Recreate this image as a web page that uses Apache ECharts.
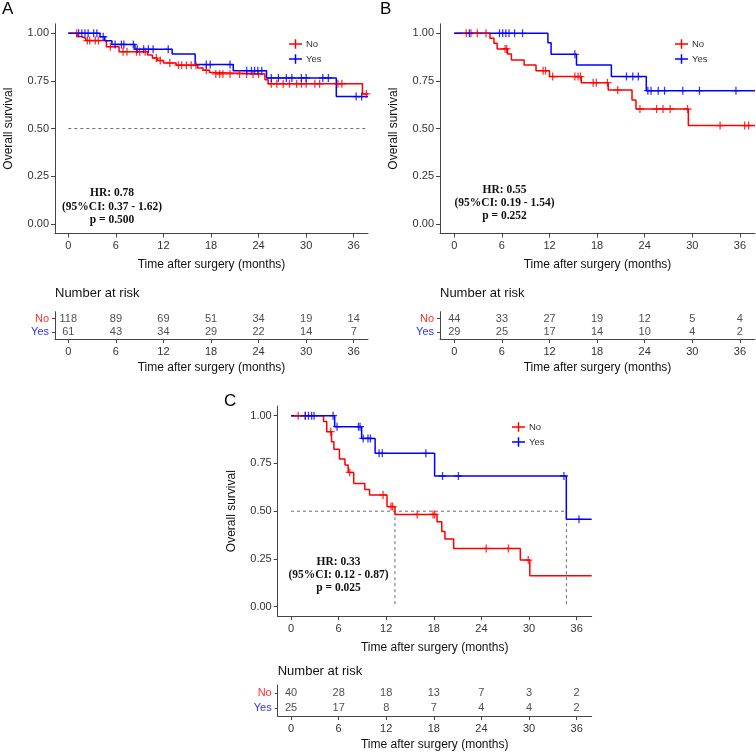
<!DOCTYPE html>
<html><head><meta charset="utf-8">
<script src="https://cdn.jsdelivr.net/npm/echarts@6/dist/echarts.min.js"></script>
<style>html,body{margin:0;padding:0;background:#fff}#c{width:756px;height:752px}</style>
</head><body><div id="c"></div>
<script>
const months = [0, 6, 12, 18, 24, 30, 36];
const yTicks = [0, 0.25, 0.5, 0.75, 1];
const groups = ['No', 'Yes'];

// Panel A
const A_no_time = [0, 1.1, 1.6, 2.2, 4.8, 6.4, 10.0, 10.6, 11.2, 12.0, 13.6, 16.3, 17.0, 17.8, 18.3, 24.8, 25.2, 37.1, 37.8];
const A_no_surv = [1, 0.983, 0.974, 0.962, 0.93, 0.904, 0.886, 0.87, 0.857, 0.845, 0.833, 0.818, 0.806, 0.795, 0.787, 0.757, 0.735, 0.682, 0.682];
const A_yes_time = [0, 4.0, 4.6, 5.5, 8.4, 13.1, 16.0, 20.8, 25.0, 33.8, 37.8];
const A_yes_surv = [1, 0.982, 0.961, 0.942, 0.916, 0.891, 0.836, 0.804, 0.766, 0.668, 0.668];
const A_no_cens = [1.05, 2.4, 2.7, 3.4, 3.8, 5.3, 6.9, 7.4, 8.6, 9.0, 9.7, 11.1, 11.6, 12.8, 13.9, 14.3, 14.9, 15.5, 16.1, 17.4, 18.6, 19.1, 19.5, 20.4, 21.6, 22.5, 23.3, 24.0, 25.6, 26.3, 27.1, 27.9, 28.8, 29.4, 30.0, 31.1, 31.7, 34.0, 34.5, 37.6];
const A_yes_cens = [1.3, 1.7, 2.1, 2.5, 3.2, 3.6, 4.4, 5.9, 6.7, 7.0, 8.2, 8.7, 9.5, 10.1, 10.7, 12.6, 17.4, 17.9, 20.4, 22.5, 23.1, 23.5, 23.9, 24.4, 25.6, 26.5, 27.5, 28.2, 29.4, 30.0, 32.1, 32.8, 36.3, 37.0];
const A_risk_no = [118, 89, 69, 51, 34, 19, 14];
const A_risk_yes = [61, 43, 34, 29, 22, 14, 7];
const A_ref = [0, 37.6];
const A_text = 'HR: 0.78\n(95%CI: 0.37 - 1.62)\np = 0.500';

// Panel B
const B_no_time = [0, 4.5, 5.0, 5.4, 6.7, 7.2, 8.8, 10.3, 12.0, 16.0, 19.4, 22.4, 22.9, 29.5, 37.9];
const B_no_surv = [1, 0.974, 0.948, 0.918, 0.892, 0.86, 0.834, 0.804, 0.773, 0.741, 0.703, 0.65, 0.603, 0.516, 0.516];
const B_yes_time = [0, 11.8, 12.2, 15.4, 19.8, 24.2, 37.9];
const B_yes_surv = [1, 0.951, 0.89, 0.834, 0.773, 0.699, 0.699];
const B_no_cens = [1.5, 2.1, 2.9, 4.0, 6.4, 6.6, 11.2, 11.5, 12.4, 15.2, 15.6, 15.9, 17.5, 17.9, 19.3, 20.6, 23.4, 25.5, 26.3, 27.2, 29.4, 33.5, 36.6, 37.1];
const B_yes_cens = [1.9, 5.7, 6.1, 6.5, 6.9, 7.6, 8.6, 15.2, 21.7, 22.5, 23.2, 24.4, 24.8, 25.7, 26.5, 28.8, 30.9, 35.5];
const B_risk_no = [44, 33, 27, 19, 12, 5, 4];
const B_risk_yes = [29, 25, 17, 14, 10, 4, 2];
const B_text = 'HR: 0.55\n(95%CI: 0.19 - 1.54)\np = 0.252';

// Panel C
const C_no_time = [0, 4.1, 4.5, 5.1, 5.4, 6.1, 6.8, 7.2, 7.9, 9.3, 9.9, 12.1, 13.1, 18.4, 19.0, 19.4, 20.5, 28.9, 30.1, 37.9];
const C_no_surv = [1, 0.969, 0.916, 0.864, 0.824, 0.773, 0.742, 0.703, 0.645, 0.613, 0.585, 0.524, 0.483, 0.445, 0.393, 0.354, 0.305, 0.244, 0.162, 0.162];
const C_yes_time = [0, 5.5, 8.9, 10.6, 18.1, 34.7, 37.9];
const C_yes_surv = [1, 0.942, 0.881, 0.803, 0.684, 0.457, 0.457];
const C_no_cens = [0.9, 1.8, 5.0, 7.4, 11.6, 12.6, 12.8, 15.9, 17.9, 18.1, 24.6, 27.4, 29.9];
const C_yes_cens = [1.8, 2.2, 2.6, 2.9, 5.3, 5.8, 8.5, 8.7, 9.1, 9.7, 10.0, 11.1, 11.5, 17.0, 19.1, 21.1, 34.4, 36.3];
const C_risk_no = [40, 28, 18, 13, 7, 3, 2];
const C_risk_yes = [25, 17, 8, 7, 4, 4, 2];
const C_median_no = 13.1;
const C_median_yes = 34.7;
const C_text = 'HR: 0.33\n(95%CI: 0.12 - 0.87)\np = 0.025';

const RED = '#ff0000', BLUE = '#0000ff';
const PLUS = 'path://M0,4.2h10v1.6h-10z M4.2,0h1.6v10h-1.6z';
const LEG = 'path://M0,4.2h14v1.6h-14z M6.2,0h1.6v10h-1.6z';
const AXC = '#444', TXT = '#333';

function stepAt(times, surv, t) {
  let s = surv[0];
  for (let i = 0; i < times.length; i++) { if (times[i] <= t) s = surv[i]; }
  return s;
}
function zip(a, b) { return a.map((v, i) => [v, b[i]]); }

const panels = [
  {grid: {left: 55, top: 23.8, width: 313, height: 209.7}, table: {left: 55, top: 311.7, width: 313, height: 27.3}, xmin: -1.68, xmax: 37.8,
   no: [A_no_time, A_no_surv, A_no_cens], yes: [A_yes_time, A_yes_surv, A_yes_cens], risk: [A_risk_no, A_risk_yes],
   refs: [[[A_ref[0], 0.5], [A_ref[1], 0.5]]], legend: {left: 289, top: 39}},
  {grid: {left: 440, top: 23.8, width: 315, height: 209.7}, table: {left: 440, top: 311.7, width: 315, height: 27.3}, xmin: -1.8, xmax: 37.9,
   no: [B_no_time, B_no_surv, B_no_cens], yes: [B_yes_time, B_yes_surv, B_yes_cens], risk: [B_risk_no, B_risk_yes],
   refs: [], legend: {left: 675, top: 39}},
  {grid: {left: 277.7, top: 406.1, width: 314, height: 210.1}, table: {left: 277.7, top: 685, width: 314, height: 32}, xmin: -1.68, xmax: 37.9,
   no: [C_no_time, C_no_surv, C_no_cens], yes: [C_yes_time, C_yes_surv, C_yes_cens], risk: [C_risk_no, C_risk_yes],
   refs: [[[0, 0.5], [C_median_yes, 0.5]], [[C_median_no, 0.5], [C_median_no, 0]], [[C_median_yes, 0.5], [C_median_yes, 0]]],
   legend: {left: 512, top: 422}}
];

const grids = [], xAxes = [], yAxes = [], series = [], legends = [];
panels.forEach((p, k) => {
  const gi = k * 2, ti = k * 2 + 1;
  grids.push(p.grid, p.table);
  const xBase = {
    type: 'value', min: p.xmin, max: p.xmax, splitLine: {show: false},
    axisLine: {show: true, onZero: false, lineStyle: {color: AXC, width: 1}},
    axisTick: {show: true, customValues: months, length: 4, lineStyle: {color: AXC}},
    axisLabel: {customValues: months, margin: 7, fontSize: 11, color: TXT, fontFamily: 'Liberation Sans'},
    name: 'Time after surgery (months)', nameLocation: 'middle',
    nameTextStyle: {fontSize: 12, color: '#111', fontFamily: 'Liberation Sans'}
  };
  xAxes.push(Object.assign({}, xBase, {gridIndex: gi, nameGap: 25}));
  xAxes.push(Object.assign({}, xBase, {gridIndex: ti, nameGap: 23}));
  yAxes.push({
    gridIndex: gi, type: 'value', min: -0.05, max: 1.05, splitLine: {show: false},
    axisLine: {show: true, onZero: false, lineStyle: {color: AXC, width: 1}},
    axisTick: {show: true, customValues: yTicks, length: 4, lineStyle: {color: AXC}},
    axisLabel: {customValues: yTicks, margin: 6, fontSize: 11, color: TXT, fontFamily: 'Liberation Sans', formatter: v => v.toFixed(2)},
    name: 'Overall survival', nameLocation: 'middle', nameGap: 40,
    nameTextStyle: {fontSize: 12, color: '#111', fontFamily: 'Liberation Sans'}
  });
  yAxes.push({
    gridIndex: ti, type: 'category', data: ['Yes', 'No'],
    axisLine: {show: true, onZero: false, lineStyle: {color: AXC, width: 1}},
    axisTick: {show: true, alignWithLabel: true, interval: 0, length: 3, lineStyle: {color: AXC}},
    axisLabel: {margin: 6, interval: 0, formatter: v => '{' + v + '|' + v + '}',
      rich: {No: {color: '#ff3030', fontSize: 11, fontFamily: 'Liberation Sans'}, Yes: {color: '#3030ff', fontSize: 11, fontFamily: 'Liberation Sans'}}}
  });
  [['No', p.no, RED], ['Yes', p.yes, BLUE]].forEach(([nm, d, col]) => {
    series.push({
      type: 'line', name: nm, xAxisIndex: gi, yAxisIndex: gi, step: 'end', showSymbol: false, symbol: 'none',
      data: zip(d[0], d[1]), lineStyle: {color: col, width: 1.5}, itemStyle: {color: col}, silent: true, z: 3
    });
    series.push({
      type: 'scatter', name: nm + ' censored', xAxisIndex: gi, yAxisIndex: gi, symbol: PLUS, symbolSize: 8,
      data: d[2].map(t => [t, stepAt(d[0], d[1], t)]), itemStyle: {color: col}, silent: true, z: 4
    });
  });
  p.refs.forEach(seg => series.push({
    type: 'line', name: 'ref', xAxisIndex: gi, yAxisIndex: gi, data: seg, symbol: 'none', silent: true, z: 2,
    lineStyle: {color: '#444', width: 0.8, type: [3, 3]}
  }));
  [[0, 1, p.risk[0]], [1, 0, p.risk[1]]].forEach(([r, yi, arr]) => {
    series.push({
      type: 'scatter', name: 'risk', xAxisIndex: ti, yAxisIndex: ti, symbolSize: 0.01, silent: true,
      data: months.map((m, i) => [m, yi, arr[i]]),
      label: {show: true, position: 'inside', formatter: q => q.value[2], fontSize: 11, color: '#222', fontFamily: 'Liberation Sans'}
    });
  });
  legends.push({
    left: p.legend.left, top: p.legend.top, padding: 0, orient: 'vertical', itemGap: 5, itemWidth: 13, itemHeight: 10,
    data: [{name: 'No', icon: LEG}, {name: 'Yes', icon: LEG}], selectedMode: false,
    textStyle: {fontSize: 9.5, color: '#333', fontFamily: 'Liberation Sans', padding: [0, 0, 0, -1]}
  });
});

const tFont = 'bold 11.5px "Liberation Serif"';
const graphics = [
  {type: 'text', left: 2, top: 1, style: {text: 'A', font: '17px "Liberation Sans"', fill: '#000'}},
  {type: 'text', left: 380, top: 1, style: {text: 'B', font: '17px "Liberation Sans"', fill: '#000'}},
  {type: 'text', left: 224, top: 393, style: {text: 'C', font: '17px "Liberation Sans"', fill: '#000'}},
  {type: 'text', left: 55, top: 287, style: {text: 'Number at risk', font: '13px "Liberation Sans"', fill: '#111'}},
  {type: 'text', left: 440, top: 287, style: {text: 'Number at risk', font: '13px "Liberation Sans"', fill: '#111'}},
  {type: 'text', left: 277.7, top: 665, style: {text: 'Number at risk', font: '13px "Liberation Sans"', fill: '#111'}},
  {type: 'text', x: 112, y: 186.5, style: {text: A_text, font: tFont, fill: '#111', align: 'center', verticalAlign: 'top', lineHeight: 13.5}},
  {type: 'text', x: 504.5, y: 184, style: {text: B_text, font: tFont, fill: '#111', align: 'center', verticalAlign: 'top', lineHeight: 13}},
  {type: 'text', x: 338.5, y: 556, style: {text: C_text, font: tFont, fill: '#111', align: 'center', verticalAlign: 'top', lineHeight: 13}}
];

const chart = echarts.init(document.getElementById('c'), null, {renderer: 'canvas'});
chart.setOption({
  animation: false, backgroundColor: '#fff',
  grid: grids, xAxis: xAxes, yAxis: yAxes, series: series, legend: legends, graphic: graphics
});
</script></body></html>
